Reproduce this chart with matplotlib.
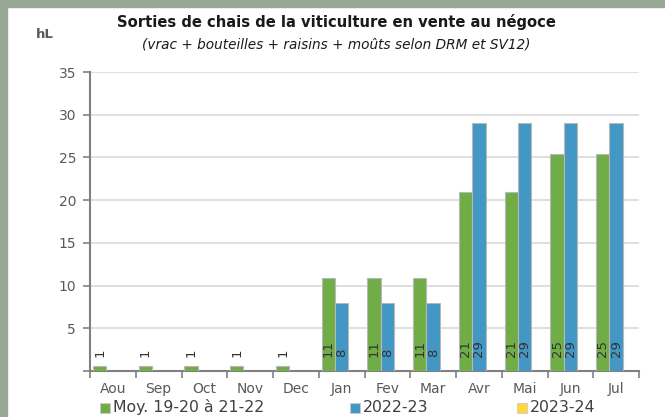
import matplotlib
matplotlib.use("Agg")
import matplotlib.pyplot as plt
import numpy as np
from matplotlib.patches import Rectangle

months = ["Aou", "Sep", "Oct", "Nov", "Dec", "Jan", "Fev", "Mar", "Avr", "Mai", "Jun", "Jul"]
series_names = ["Moy. 19-20 à 21-22", "2022-23", "2023-24"]
moy = [0.6, 0.6, 0.6, 0.6, 0.6, 10.9, 10.9, 10.9, 20.9, 20.9, 25.4, 25.4]
s2223 = [None, None, None, None, None, 8.0, 8.0, 8.0, 29.0, 29.0, 29.0, 29.0]
s2324 = [None] * 12
labels_moy = ["1", "1", "1", "1", "1", "11", "11", "11", "21", "21", "25", "25"]
labels_2223 = [None, None, None, None, None, "8", "8", "8", "29", "29", "29", "29"]
colors = ["#70ad47", "#4397c4", "#ffd83a"]

plt.rcParams['font.family'] = ['DejaVu Sans']

fig = plt.figure(figsize=(6.65, 4.17), dpi=100)
fig.patch.set_facecolor("white")
# border
border = "#97a897"
fig.patches.append(Rectangle((0, 0), 7/665, 1, transform=fig.transFigure, color=border, zorder=0))
fig.patches.append(Rectangle((0, 1-7/417), 1, 7/417, transform=fig.transFigure, color=border, zorder=0))

ax = fig.add_axes([90/665, 1-371/417, (639-90)/665, (371-72)/417])
x = np.arange(len(months))
w = 0.29
edge = "#b8b8b8"

def vals(v):
    return [np.nan if a is None else a for a in v]

ax.bar(x - w, vals(moy), w, color=colors[0], edgecolor=edge, linewidth=0.8, zorder=3)
ax.bar(x, vals(s2223), w, color=colors[1], edgecolor=edge, linewidth=0.8, zorder=3)
ax.bar(x + w, vals(s2324), w, color=colors[2], edgecolor=edge, linewidth=0.8, zorder=3)

for xi, lab in zip(x, labels_moy):
    if lab:
        ax.annotate(lab, (xi - w, 0), xytext=(0, 10), textcoords="offset points",
                    rotation=90, ha="center", va="bottom", fontsize=9.5, color="#333333", zorder=4)
for xi, lab in zip(x, labels_2223):
    if lab:
        ax.annotate(lab, (xi, 0), xytext=(0, 10), textcoords="offset points",
                    rotation=90, ha="center", va="bottom", fontsize=9.5, color="#333333", zorder=4)

ax.set_xlim(-0.5, len(months) - 0.5)
ax.set_ylim(0, 35)
ax.set_yticks(range(0, 36, 5))
ax.set_yticklabels(["" if v == 0 else str(v) for v in range(0, 36, 5)])
ax.yaxis.grid(True, color="#d9d9d9", linewidth=1.2, zorder=0)
ax.set_axisbelow(True)
ax.set_xticks(x)
ax.set_xticklabels(months)
ax.set_xticks(np.arange(-0.5, len(months), 1), minor=True)
ax.tick_params(axis="x", which="major", length=0, pad=8, labelsize=10, labelcolor="#595959")
ax.tick_params(axis="x", which="minor", length=5, width=1.2, color="#808080")
ax.tick_params(axis="y", length=5, width=1.2, color="#808080", labelsize=10, labelcolor="#595959", pad=5)
for s in ["top", "right"]:
    ax.spines[s].set_visible(False)
for s in ["left", "bottom"]:
    ax.spines[s].set_color("#808080")
    ax.spines[s].set_linewidth(1.5)

fig.text(336/665, 1-22/417, "Sorties de chais de la viticulture en vente au négoce",
         ha="center", va="center", fontsize=10.6, fontweight="bold", color="#1a1a1a")
fig.text(336/665, 1-45/417, "(vrac + bouteilles + raisins + moûts selon DRM et SV12)",
         ha="center", va="center", fontsize=9.8, style="italic", color="#1a1a1a")
fig.text(36/665, 1-35/417, "hL", ha="left", va="center", fontsize=9.5, fontweight="bold", color="#595959")

# legend
leg_x = [100, 350, 517]
for lx, name, c in zip(leg_x, series_names, colors):
    fig.patches.append(Rectangle((lx/665, 1-413/417), 10/665, 10/417, transform=fig.transFigure,
                                 facecolor=c, edgecolor="#cccccc", linewidth=0.6))
    fig.text((lx+13)/665, 1-407/417, name, ha="left", va="center", fontsize=11.3, color="#404040")

fig.savefig("out.png", dpi=100)
